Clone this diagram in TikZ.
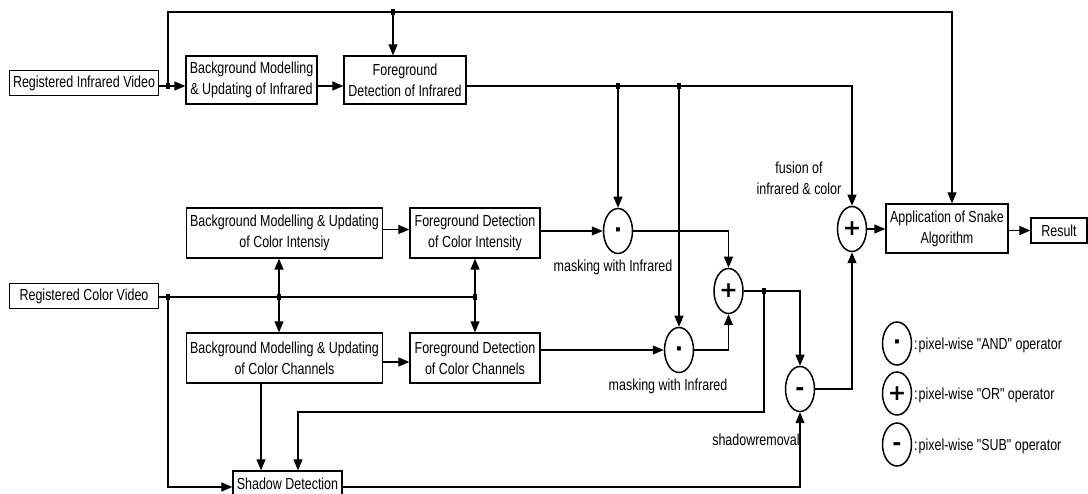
\documentclass[tikz,border=0pt]{standalone}
\usepackage{fontspec}
\setmainfont{Liberation Sans}[FakeStretch=0.78, Ligatures=TeXOff]
\newfontfamily\symf{DejaVu Sans}
\usetikzlibrary{arrows.meta,shapes.geometric}
\newcommand{\opdot}{\raisebox{-6.5pt}[0pt][0pt]{·}}
\newcommand{\opminus}{\raisebox{-6.5pt}[0pt][0pt]{-}}
\begin{document}
\begin{tikzpicture}[x=1pt,y=-1pt,
  font=\fontsize{16}{21}\selectfont,
  box/.style={draw, line width=1.3pt, align=center, inner sep=1pt},
  op/.style={ellipse, draw, line width=1.5pt, minimum width=29pt, minimum height=45pt, inner sep=0pt, font=\symf\bfseries\fontsize{22}{22}\selectfont},
  conn/.style={line width=1.2pt},
  arr/.style={conn, -{Triangle[length=11pt,width=9pt]}},
  jn/.style={fill, rectangle, inner sep=0pt, minimum width=4.5pt, minimum height=6.5pt},
  lbl/.style={inner sep=0pt, align=center}]
\useasboundingbox (0,0) rectangle (1088,494);

% boxes
\node[box, minimum width=149pt, minimum height=25pt] (irv) at (84,83) {Registered Infrared Video};
\node[box, minimum width=131pt, minimum height=48pt] (bgir) at (251.5,80) {Background Modelling\\\& Updating of Infrared};
\node[box, minimum width=122pt, minimum height=48pt] (fgir) at (405,80) {Foreground\\Detection of Infrared};
\node[box, minimum width=196pt, minimum height=50pt] (bgi) at (284.5,233) {Background Modelling \& Updating\\of Color Intensiy};
\node[box, minimum width=130pt, minimum height=50pt] (fgi) at (475,233) {Foreground Detection\\of Color Intensity};
\node[box, minimum width=149pt, minimum height=25pt] (cv) at (84,296) {Registered Color Video};
\node[box, minimum width=196pt, minimum height=50pt] (bgc) at (284.5,358) {Background Modelling \& Updating\\of Color Channels};
\node[box, minimum width=130pt, minimum height=50pt] (fgc) at (475,358) {Foreground Detection\\of Color Channels};
\node[box, minimum width=109pt, minimum height=26pt] (sd) at (287.5,484) {Shadow Detection};
\node[box, minimum width=122pt, minimum height=49pt] (app) at (947,228.5) {Application of Snake\\Algorithm};
\node[box, minimum width=56pt, minimum height=25pt] (res) at (1059,230.5) {Result};

% operators
\node[op] (and1) at (618,231) {\opdot};
\node[op] (and2) at (679,350) {\opdot};
\node[op] (or1) at (728.5,291) {+};
\node[op] (sub) at (800,389) {\opminus};
\node[op] (or2) at (852,229) {+};

% labels
\node[lbl] (m1) at (613,267) {masking with Infrared};
\node[lbl] (m2) at (668,386) {masking with Infrared};
\node[lbl] (fus) at (799,178) {fusion of\\infrared \& color};
\node[lbl] (shr) at (756,440) {shadowremoval};

% legend
\node[op, minimum height=43pt] (lg1) at (897,343.5) {\opdot};
\node[op, minimum height=43pt] (lg2) at (897,393.5) {+};
\node[op, minimum height=43pt] (lg3) at (897,444.5) {\opminus};
\node[lbl, anchor=west] (lt1) at (914,345) {:\hspace{1pt}pixel-wise "AND" operator};
\node[lbl, anchor=west] (lt2) at (914,395) {:\hspace{1pt}pixel-wise "OR" operator};
\node[lbl, anchor=west] (lt3) at (914,446) {:\hspace{1pt}pixel-wise "SUB" operator};

% junctions and bends
\node[jn] (j1) at (168,86) {};
\node[jn] (jtop) at (393,12) {};
\node[jn] (jA) at (618,86) {};
\node[jn] (jB) at (679,86) {};
\node[jn] (jC0) at (168,297) {};
\node[jn] (jC1) at (279,297) {};
\node[jn] (jC2) at (475,297) {};
\node[jn] (jD) at (764,291) {};
\coordinate (tl) at (168,12);
\coordinate (tr) at (952,12);
\coordinate (irR) at (852,86);
\coordinate (k1) at (764,412);
\coordinate (k2) at (298,412);
\coordinate (k3) at (261,0);
\coordinate (k4) at (800,487);
\coordinate (k5) at (168,487);

% infrared row
\draw[conn] (irv.east |- j1) -- (j1.center);
\draw[arr] (j1.center) -- (bgir.west |- j1);
\draw[arr] (j1.center) -- (tl) -- (tr) -- (tr |- app.north);
\draw[arr] (jtop.center) -- (fgir.north -| jtop);
\draw[arr] (bgir.east |- j1) -- (fgir.west |- j1);
\draw[arr] (fgir.east |- jA) -- (irR) -- (or2.north);
\draw[arr] (jA.center) -- (and1.north);
\draw[arr] (jB.center) -- (and2.north);

% color row
\draw[conn] (cv.east |- jC0) -- (jC2.center);
\draw[arr] (jC1.center) -- (bgi.south -| jC1);
\draw[arr] (jC1.center) -- (bgc.north -| jC1);
\draw[arr] (jC2.center) -- (fgi.south);
\draw[arr] (jC2.center) -- (fgc.north);
\draw[arr] (jC0.center) -- (k5) -- (sd.west |- k5);
\draw[arr] ([yshift=3.5pt]bgi.east) -- ([yshift=3.5pt]fgi.west);
\draw[arr] ([yshift=-4pt]bgc.east) -- ([yshift=-4pt]fgc.west);
\draw[arr] (fgi.east |- and1) -- (and1.west);
\draw[arr] (fgc.east |- and2) -- (and2.west);

% combination
\draw[arr] (and1.east) -- (or1.north |- and1) -- (or1.north);
\draw[arr] (and2.east) -- (or1.south |- and2) -- (or1.south);
\draw[arr] (or1.east) -- (jD.center) -- (sub.north |- jD) -- (sub.north);
\draw[arr] (jD.center) -- (k1) -- (k2) -- (k2 |- sd.north);
\draw[arr] (bgc.south -| k3) -- (sd.north -| k3);
\draw[arr] (sd.east |- k4) -- (k4) -- (sub.south);
\draw[arr] (sub.east) -- (or2.south |- sub) -- (or2.south);
\draw[arr] (or2.east) -- (app.west |- or2);
\draw[arr] (app.east |- res) -- (res.west);
\end{tikzpicture}
\end{document}
